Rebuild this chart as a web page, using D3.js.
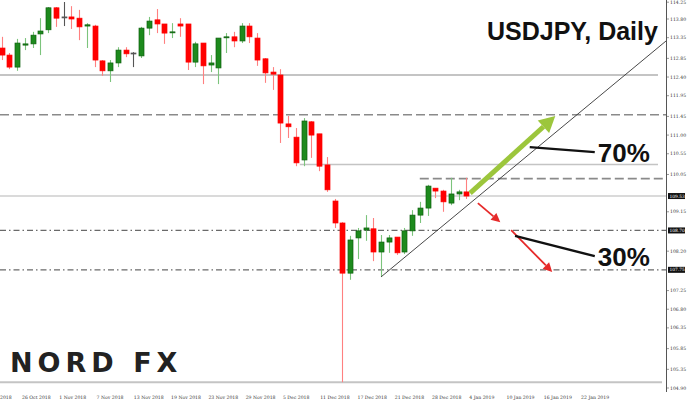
<!DOCTYPE html>
<html><head><meta charset="utf-8">
<script src="https://cdn.jsdelivr.net/npm/d3@7"></script>
<style>body{margin:0;background:#fff}svg{display:block}</style>
</head><body><svg id="c" width="687" height="403"></svg>
<script>
// ---- data ----
const opens=[113.10,112.93,112.64,113.17,113.20,113.44,113.54,114.07,113.85,113.85,113.82,113.63,113.63,112.79,112.55,112.74,113.05,112.98,112.91,113.58,113.78,113.68,113.47,113.68,113.68,112.76,113.22,112.69,112.62,113.36,113.37,113.27,113.63,113.34,112.84,112.52,112.45,111.27,110.95,110.40,111.32,111.03,110.28,109.41,108.88,107.67,108.52,108.71,108.74,108.18,108.42,108.54,108.18,108.69,109.07,109.24,109.72,109.65,109.36,109.58,109.63];
const highs=[113.37,112.98,113.32,113.34,113.49,113.82,114.09,114.09,114.21,114.11,114.02,113.70,113.66,112.81,112.81,113.12,113.12,113.00,113.61,113.85,114.04,113.68,113.70,113.82,113.68,113.25,113.22,112.93,113.34,113.46,113.49,113.70,113.70,113.46,112.86,112.64,112.59,111.46,111.17,111.41,111.34,111.03,110.47,109.46,108.90,108.57,108.76,109.07,109.00,108.59,108.59,108.54,108.76,109.19,109.39,109.80,109.72,109.68,109.97,109.68,109.97];
const lows=[112.81,112.59,112.55,113.05,113.10,112.93,113.46,113.61,113.63,113.56,113.29,113.10,112.64,112.43,112.28,112.64,112.88,112.64,112.86,113.41,113.46,113.20,113.34,113.37,112.57,112.64,112.23,112.52,112.23,112.98,113.12,113.22,113.22,112.67,112.26,112.09,110.81,110.93,110.25,110.25,110.45,110.13,109.63,108.76,105.04,107.51,108.01,108.45,107.96,107.58,108.16,108.11,108.13,108.57,108.88,109.05,109.48,109.15,109.31,109.43,109.46];
const closes=[112.93,112.64,113.22,113.20,113.41,113.51,114.07,113.82,113.85,113.80,113.61,113.66,112.81,112.55,112.74,113.05,112.96,112.98,113.58,113.75,113.68,113.46,113.49,113.63,112.76,113.20,112.67,112.74,113.34,113.37,113.27,113.63,113.37,112.81,112.50,112.47,111.29,111.20,110.33,111.34,111.00,110.25,109.68,108.88,107.67,108.47,108.69,108.76,108.18,108.42,108.52,108.16,108.69,109.07,109.24,109.77,109.65,109.39,109.58,109.63,109.53];
const priceTicks=["114.25","113.80","113.35","112.85","112.40","111.95","111.45","111.00","110.55","110.05","109.15","108.20","107.25","106.80","106.35","105.85","105.35","104.90"];
const markedPrices=["109.53","108.70","107.75"];
const dateLabels=["20 Oct 2018","26 Oct 2018","1 Nov 2018","7 Nov 2018","13 Nov 2018","19 Nov 2018","23 Nov 2018","29 Nov 2018","5 Dec 2018","11 Dec 2018","17 Dec 2018","21 Dec 2018","28 Dec 2018","4 Jan 2019","10 Jan 2019","16 Jan 2019","22 Jan 2019"];
const levelPrices=[112.45,111.49,110.29,109.95,109.53,108.70,107.75,105.04];
const levelFromBar=[-1,-1,38.5,54,-1,-1,-1,-1];
const trendPts=[[49,107.58],[86,113.30]];
const upArrow=[[60.5,109.60],[71.5,111.46]];
const downArrows=[[[61.5,109.36],[64.4,108.90]],[[65.8,108.71],[71.1,107.70]]];
const pointers=[[[68.2,110.71],[76.6,110.59]],[[66.3,108.57],[76.6,108.08]]];
const pctLabels=["70%","30%"];
const title="USDJPY, Daily";

// ---- scales ----
const W=687,H=403,axisX=666,plotBottom=392;
const x=d3.scaleLinear().domain([-0.22,85.8]).range([0,axisX]);
const y=d3.scaleLinear().domain([104.9,113.80]).range([388,19]);
const svg=d3.select("#c");
svg.append("rect").attr("width",W).attr("height",H).attr("fill","#fff");
const defs=svg.append("defs");
defs.append("clipPath").attr("id","plot").append("rect").attr("x",0).attr("y",0).attr("width",axisX).attr("height",plotBottom);

const g=svg.append("g").attr("clip-path","url(#plot)");

// ---- levels ----
const lvlStyle={
 "112.45":{c:"#c4c4c4",w:2,d:null,end:658},
 "111.49":{c:"#8a8a8a",w:1.6,d:"9,4",end:axisX},
 "110.29":{c:"#c4c4c4",w:1.6,d:null,end:658},
 "109.95":{c:"#8a8a8a",w:1.6,d:"9,4",end:axisX},
 "109.53":{c:"#dadada",w:2,d:null,end:axisX},
 "108.7":{c:"#6a6a6a",w:1.2,d:"6,3,1.5,3",end:axisX},
 "107.75":{c:"#6a6a6a",w:1.2,d:"6,3,1.5,3",end:axisX},
 "105.04":{c:"#c4c4c4",w:2,d:null,end:662}
};
levelPrices.forEach((p,i)=>{
 const s=lvlStyle[String(p)];
 const x0=levelFromBar[i]<0?0:x(levelFromBar[i]);
 g.append("line").attr("x1",x0).attr("x2",s.end).attr("y1",y(p)).attr("y2",y(p))
  .attr("stroke",s.c).attr("stroke-width",s.w).attr("stroke-dasharray",s.d);
});

// ---- candles ----
const bars=opens.map((o,i)=>({i,o,h:highs[i],l:lows[i],c:closes[i]}));
const col=d=>d.c>d.o?"bull":(d.c<d.o?"bear":"flat");
const wickC={bull:"#7cc47c",bear:"#ff8080",flat:"#555"};
const bodyF={bull:"#1d8a1d",bear:"#ff0000",flat:"#555"};
const bodyS={bull:"#0e5e0e",bear:"#ff0000",flat:"#555"};
const bw=5;
const cg=g.append("g");
cg.selectAll("line.w").data(bars).join("line").attr("class","w")
 .attr("x1",d=>Math.round(x(d.i))+0.5).attr("x2",d=>Math.round(x(d.i))+0.5)
 .attr("y1",d=>y(d.h)).attr("y2",d=>y(d.l))
 .attr("stroke",d=>wickC[col(d)]).attr("stroke-width",1.1);
cg.selectAll("rect.b").data(bars).join("rect").attr("class","b")
 .attr("x",d=>Math.round(x(d.i))+0.5-bw/2).attr("width",bw)
 .attr("y",d=>y(Math.max(d.o,d.c)))
 .attr("height",d=>Math.max(1,Math.abs(y(d.o)-y(d.c))))
 .attr("fill",d=>bodyF[col(d)]).attr("stroke",d=>bodyS[col(d)]).attr("stroke-width",0.7);

// ---- trend line ----
g.append("line").attr("x1",x(trendPts[0][0])).attr("y1",y(trendPts[0][1]))
 .attr("x2",x(trendPts[1][0])).attr("y2",y(trendPts[1][1]))
 .attr("stroke","#333").attr("stroke-width",0.9);

// ---- arrows ----
function arrow(pts,color,w,headL,headW){
 const x1=x(pts[0][0]),y1=y(pts[0][1]),x2=x(pts[1][0]),y2=y(pts[1][1]);
 const a=Math.atan2(y2-y1,x2-x1);
 const bx=x2-headL*Math.cos(a),by=y2-headL*Math.sin(a);
 svg.append("line").attr("x1",x1).attr("y1",y1).attr("x2",bx).attr("y2",by)
  .attr("stroke",color).attr("stroke-width",w);
 const px=-Math.sin(a),py=Math.cos(a);
 svg.append("path").attr("d",`M${x2},${y2}L${bx+px*headW/2},${by+py*headW/2}L${bx-px*headW/2},${by-py*headW/2}Z`)
  .attr("fill",color);
}
arrow(upArrow,"#9cc63c",5,16,17);
downArrows.forEach(a=>arrow(a,"#e62a2a",1.8,9,9));

// ---- pointers and labels ----
pointers.forEach((p,i)=>{
 svg.append("line").attr("x1",x(p[0][0])).attr("y1",y(p[0][1]))
  .attr("x2",x(p[1][0])).attr("y2",y(p[1][1]))
  .attr("stroke","#111").attr("stroke-width",2.4);
 svg.append("text").attr("x",x(p[1][0])+3).attr("y",y(p[1][1])+10)
  .attr("font-family","Liberation Sans, Arial, sans-serif").attr("font-weight","bold")
  .attr("font-size",26).attr("fill","#111").text(pctLabels[i]);
});

// ---- title ----
svg.append("text").attr("x",487).attr("y",40)
 .attr("font-family","Liberation Sans, Arial, sans-serif").attr("font-weight","bold")
 .attr("font-size",25).attr("fill","#111").text(title);

// ---- axes ----
svg.append("line").attr("x1",axisX+0.5).attr("x2",axisX+0.5).attr("y1",0).attr("y2",plotBottom)
 .attr("stroke","#555").attr("stroke-width",1);
const ax=svg.append("g");
priceTicks.forEach(t=>{
 const yy=Math.max(2.2,y(+t));
 ax.append("line").attr("x1",axisX).attr("x2",axisX+3).attr("y1",yy).attr("y2",yy).attr("stroke","#555").attr("stroke-width",0.6);
 ax.append("text").attr("x",axisX+4).attr("y",yy+1.6).attr("font-family","DejaVu Serif, serif")
  .attr("font-size",4.6).attr("fill","#333").text(t);
});
markedPrices.forEach(t=>{
 const yy=y(+t);
 ax.append("rect").attr("x",axisX+2).attr("y",yy-3).attr("width",17).attr("height",6).attr("fill","#111");
 ax.append("text").attr("x",axisX+3.5).attr("y",yy+1.6).attr("font-family","DejaVu Serif, serif")
  .attr("font-size",4.4).attr("fill","#fff").text(t);
});
const labelStep=4.814, labelStart=-2.19;
dateLabels.forEach((t,k)=>{
 const px=Math.max(0,x(labelStart+k*labelStep));
 ax.append("text").attr("x",px).attr("y",399).attr("font-family","DejaVu Serif, serif")
  .attr("font-size",4.6).attr("fill","#333").text(k===0?"2018":t);
});

// ---- logo ----
svg.append("text").attr("x",10).attr("y",372)
 .attr("font-family","DejaVu Sans, sans-serif").attr("font-weight","bold")
 .attr("font-size",27).attr("letter-spacing",5).attr("fill","#222").text("NORD FX");
</script></body></html>
